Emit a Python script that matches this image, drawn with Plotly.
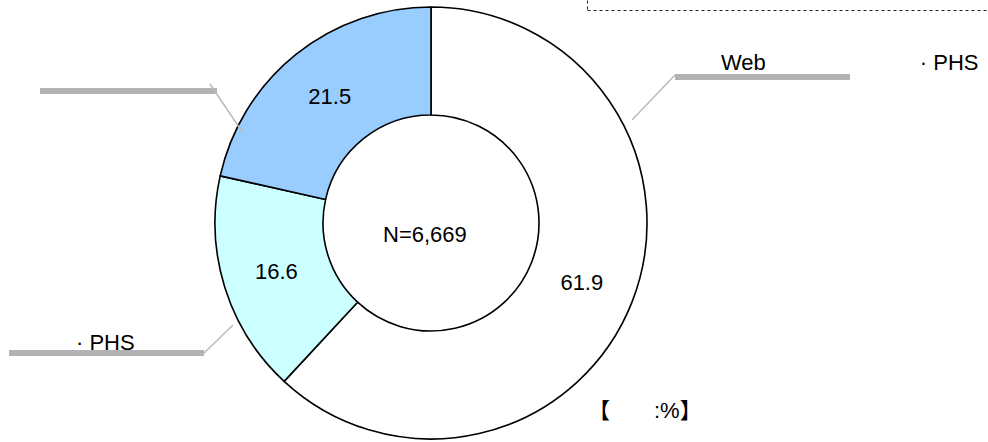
import plotly.graph_objects as go

# ---- data ----
values = [61.9, 16.6, 21.5]
categories = [
    "Web\u3000\u3000\u3000\u3000\u3000\u3000\u3000· PHS",
    "\u3000\u3000· PHS",
    "\u3000\u3000\u3000\u3000\u3000\u3000",
]
slice_colors = ["#FFFFFF", "#CCFFFF", "#99CCFF"]
center_label = "N=6,669"
unit_label = "【\u3000\u3000:%】"

W, H = 988, 442
FONT = "Liberation Sans, Arial, Noto Sans CJK JP, sans-serif"
GRAY = "#B2B2B2"


def px(x):
    return x / W


def py(y):
    return 1 - y / H


fig = go.Figure(
    go.Pie(
        values=values,
        labels=categories,
        sort=False,
        direction="clockwise",
        rotation=0,
        hole=0.5,
        marker=dict(colors=slice_colors, line=dict(color="black", width=1.6)),
        texttemplate="%{value:.1f}",
        textposition="inside",
        insidetextorientation="horizontal",
        textfont=dict(size=22, color="black", family=FONT),
        domain=dict(x=[px(215), px(647)], y=[py(439), py(7)]),
        showlegend=False,
        hoverinfo="skip",
    )
)

shapes = []
# dotted frame at top right
shapes.append(dict(type="rect", xref="paper", yref="paper",
                   x0=px(587.5), x1=px(995), y0=py(10.5), y1=py(-10),
                   line=dict(color="#222222", width=1, dash="dot"),
                   fillcolor="rgba(0,0,0,0)"))
# label underline bars and leader lines
bars = [((675, 77), (850, 77)), ((40, 91), (217, 91)), ((9, 353), (204, 353))]
leaders = [((632, 120), (675, 75)), ((210, 84), (243, 133)), ((202, 355), (233, 325))]
for (x0, y0), (x1, y1) in bars:
    shapes.append(dict(type="line", xref="paper", yref="paper",
                       x0=px(x0), y0=py(y0), x1=px(x1), y1=py(y1),
                       line=dict(color=GRAY, width=6)))
for (x0, y0), (x1, y1) in leaders:
    shapes.append(dict(type="line", xref="paper", yref="paper",
                       x0=px(x0), y0=py(y0), x1=px(x1), y1=py(y1),
                       line=dict(color="#BBBBBB", width=1.5)))

lab_font = dict(size=22, color="black", family=FONT)
annotations = [
    dict(text=center_label, x=px(425), y=py(234), xanchor="center", yanchor="middle",
         showarrow=False, font=lab_font),
    dict(text=categories[0], x=px(719), y=py(63), xanchor="left", yanchor="middle",
         showarrow=False, font=lab_font),
    dict(text=categories[1], x=px(137), y=py(342), xanchor="right", yanchor="middle",
         showarrow=False, font=lab_font),
    dict(text=categories[2], x=px(60), y=py(70), xanchor="left", yanchor="middle",
         showarrow=False, font=lab_font),
    dict(text=unit_label, x=px(586), y=py(410), xanchor="left", yanchor="middle",
         showarrow=False, font=lab_font),
]
for a in annotations:
    a.update(xref="paper", yref="paper")

fig.update_layout(
    width=W, height=H,
    margin=dict(l=0, r=0, t=0, b=0),
    paper_bgcolor="white", plot_bgcolor="white",
    shapes=shapes, annotations=annotations,
    font=dict(family=FONT, color="black"),
)

fig.write_html(
    "out.html",
    config={"displayModeBar": False},
    post_script="document.body.style.margin='0';document.body.style.padding='0';",
)
